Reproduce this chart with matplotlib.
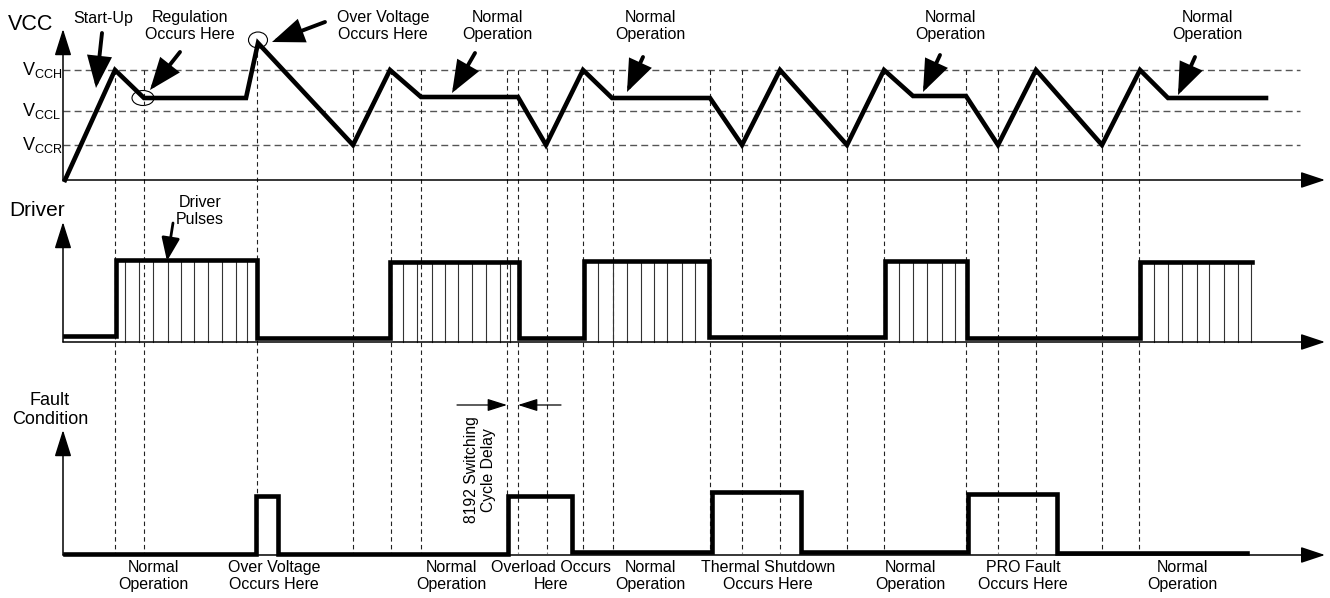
import matplotlib
matplotlib.use("Agg")
import matplotlib.pyplot as plt
from matplotlib.patches import Ellipse

plt.rcParams['font.family'] = ['Liberation Sans', 'DejaVu Sans']
plt.rcParams['mathtext.fontset'] = 'custom'
plt.rcParams['mathtext.rm'] = 'Liberation Sans'

# ---------------- data (time axis in figure-width units) ----------------
# panel baselines / axis geometry
VCC_BASE, DRV_BASE, FLT_BASE = 180, 342, 555
AXIS_X0, AXIS_X1 = 63, 1325

# VCC levels (height above VCC baseline)
vcc_levels = {"V_{CCH}": 110, "V_{CCL}": 69, "V_{CCR}": 35}

# VCC waveform
vcc_t = [65, 115, 144, 246, 258, 353, 390, 421, 518, 546, 583, 612, 710, 742,
         780, 847, 884, 913, 966, 998, 1036, 1102, 1140, 1168, 1266]
vcc_v = [0, 110, 82, 82, 137, 35, 110, 83, 83, 35, 110, 82, 82, 35,
         110, 35, 110, 84, 84, 35, 110, 35, 110, 82, 82]

# Driver waveform
drv_t = [65, 116, 116, 257, 257, 390, 390, 519, 519, 584, 584, 709, 709,
         885, 885, 967, 967, 1140, 1140, 1252]
drv_v = [6, 6, 82, 82, 4, 4, 80, 80, 4, 4, 81, 81, 5, 5, 81, 81, 4, 4, 80, 80]
drv_high = [82, 80, 81, 81, 80]
drv_pulses = [
    [125, 139, 153, 168, 181, 194, 208, 222, 236, 247],
    [403, 417, 432, 445, 458, 472, 486, 500, 510],
    [598, 613, 627, 641, 654, 667, 682, 695],
    [899, 913, 927, 942, 955],
    [1154, 1168, 1182, 1197, 1209, 1224, 1238, 1251],
]

# Fault waveform
flt_t = [65, 256, 256, 278, 278, 508, 508, 572, 572, 712, 712, 801, 801,
         968, 968, 1057, 1057, 1247]
flt_v = [1, 1, 59, 59, 1, 1, 59, 59, 3, 3, 63, 63, 3, 3, 61, 61, 2, 2]

# vertical event markers
event_t = [115, 144, 257, 353, 391, 421, 507, 518, 547, 583, 613, 710, 742,
           780, 847, 884, 966, 998, 1036, 1102, 1139]

# annotations (top)
top_labels = ["Start-Up", "Regulation\nOccurs Here", "Over Voltage\nOccurs Here",
              "Normal\nOperation", "Normal\nOperation", "Normal\nOperation",
              "Normal\nOperation"]
top_label_x = [103, 190, 383, 497, 650, 950, 1207]
top_arrow_tail = [(102, 33), (180, 52), (325, 22), (475, 53), (643, 57), (940, 55), (1195, 57)]
top_arrow_tip = [(96, 88), (150, 90), (272, 42), (452, 93), (627, 92), (923, 92), (1178, 95)]

# bottom labels
bottom_labels = ["Normal\nOperation", "Over Voltage\nOccurs Here", "Normal\nOperation",
                 "Overload Occurs\nHere", "Normal\nOperation", "Thermal Shutdown\nOccurs Here",
                 "Normal\nOperation", "PRO Fault\nOccurs Here", "Normal\nOperation"]
bottom_label_x = [153, 274, 451, 551, 650, 768, 910, 1023, 1182]

# ---------------- drawing ----------------
fig = plt.figure(figsize=(13.3, 5.98), dpi=100)
ax = fig.add_axes([0, 0, 1, 1])
ax.set_xlim(0, 1330)
ax.set_ylim(598, 0)
ax.axis('off')

def axis_arrow(x0, y0, x1, y1, hl=14.5, hw=5.0):
    ax.annotate('', xy=(x1, y1), xytext=(x0, y0),
                arrowprops=dict(arrowstyle=f'-|>,head_length={hl},head_width={hw}',
                                mutation_scale=1, lw=1.1, color='k',
                                shrinkA=0, shrinkB=0))

# panel axes
for base, top in [(VCC_BASE, 29), (DRV_BASE, 222), (FLT_BASE, 430)]:
    axis_arrow(AXIS_X0, base, AXIS_X0, top, hl=16.5, hw=5.2)
    axis_arrow(AXIS_X0, base, AXIS_X1, base, hl=15, hw=5.0)

# VCC level lines & labels
for name, h in vcc_levels.items():
    y = VCC_BASE - h
    ax.plot([AXIS_X0, 1300], [y, y], color='#555555', lw=1.0, dashes=(5, 3))
    ax.text(22, y, r'$\mathregular{' + name + '}$', fontsize=13, va='center', ha='left')

# vertical event lines
for t in event_t:
    ytop = VCC_BASE - 135 if t == 257 else VCC_BASE - 110
    ax.plot([t, t], [ytop, FLT_BASE - 2], color='#222222', lw=0.8, dashes=(4, 3))

# driver pulse lines
for seg, hgt in zip(drv_pulses, drv_high):
    for t in seg:
        ax.plot([t, t], [DRV_BASE - hgt, DRV_BASE], color='#333333', lw=0.8)

# waveforms
ax.plot(vcc_t, [VCC_BASE - v for v in vcc_v], color='k', lw=3.3, solid_joinstyle='miter')
ax.plot(drv_t, [DRV_BASE - v for v in drv_v], color='k', lw=3.3, solid_joinstyle='miter')
ax.plot(flt_t, [FLT_BASE - v for v in flt_v], color='k', lw=3.3, solid_joinstyle='miter')

# circles
ax.add_patch(Ellipse((143, 98), 22, 15, fill=False, lw=0.8, color='k'))
ax.add_patch(Ellipse((258, 40), 19, 16, fill=False, lw=0.8, color='k'))

# panel titles
ax.text(8, 25, 'VCC', fontsize=15.5, va='center', ha='left')
ax.text(9, 211, 'Driver', fontsize=15, va='center', ha='left')
ax.text(50, 410, 'Fault\nCondition', fontsize=13, va='center', ha='center', linespacing=1.15)

# top labels + arrows
for lab, x, tail, tip in zip(top_labels, top_label_x, top_arrow_tail, top_arrow_tip):
    y = 18 if lab == "Start-Up" else 26
    ax.text(x, y, lab, fontsize=11.5, ha='center', va='center', linespacing=1.15)
    ax.annotate('', xy=tip, xytext=tail,
                arrowprops=dict(arrowstyle='-|>,head_length=18,head_width=7',
                                mutation_scale=1, lw=2.8, color='k',
                                shrinkA=0, shrinkB=0, joinstyle='miter'))

# driver pulses label
ax.text(200, 211, 'Driver\nPulses', fontsize=11.5, ha='center', va='center', linespacing=1.15)
ax.annotate('', xy=(167, 261), xytext=(173, 223),
            arrowprops=dict(arrowstyle='-|>,head_length=14,head_width=5.5',
                            mutation_scale=1, lw=2.0, color='k', shrinkA=0, shrinkB=0))

# bottom labels
for lab, x in zip(bottom_labels, bottom_label_x):
    ax.text(x, 576, lab, fontsize=11.5, ha='center', va='center', linespacing=1.15)

# delay annotation
ax.annotate('', xy=(507, 405), xytext=(457, 405),
            arrowprops=dict(arrowstyle='-|>,head_length=12,head_width=3.8',
                            mutation_scale=1, lw=0.9, color='k', shrinkA=0, shrinkB=0))
ax.annotate('', xy=(518, 405), xytext=(561, 405),
            arrowprops=dict(arrowstyle='-|>,head_length=12,head_width=3.8',
                            mutation_scale=1, lw=0.9, color='k', shrinkA=0, shrinkB=0))
ax.text(480, 470, '8192 Switching\nCycle Delay', fontsize=11.3, rotation=90,
        ha='center', va='center', linespacing=1.15)

fig.savefig('out.png', dpi=100)
